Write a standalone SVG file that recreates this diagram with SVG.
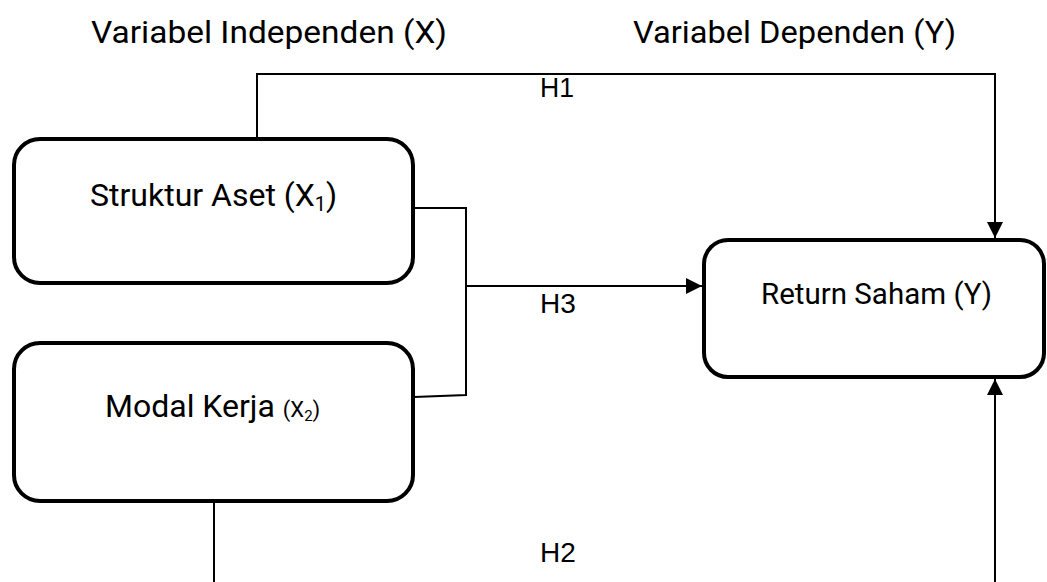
<svg xmlns="http://www.w3.org/2000/svg" width="1047" height="582" viewBox="0 0 1047 582">
  <style>
    .box { fill: #ffffff; stroke: #000000; stroke-width: 4; }
    .wire { fill: none; stroke: #000000; stroke-width: 2; }
    .title { font-family: Roboto, "Liberation Sans", sans-serif; font-size: 31px; fill: #000000; }
    .label { font-family: Roboto, "Liberation Sans", sans-serif; font-size: 32px; fill: #000000; }
    .label.small { font-size: 29.5px; }
    .hyp { font-family: "Liberation Sans", Arial, sans-serif; font-size: 28px; fill: #000000; }
  </style>
  <defs>
    <marker id="head" viewBox="0 0 16 16" refX="16" refY="8" markerWidth="16" markerHeight="16" markerUnits="userSpaceOnUse" orient="auto">
      <path d="M0,0 L16,8 L0,16 Z" fill="#000000"/>
    </marker>
  </defs>
  <rect width="1047" height="582" fill="#ffffff"/>

  <!-- column headings -->
  <text class="title" x="91" y="43" textLength="356" lengthAdjust="spacingAndGlyphs">Variabel Independen (X)</text>
  <text class="title" x="633" y="43" textLength="323" lengthAdjust="spacingAndGlyphs">Variabel Dependen (Y)</text>

  <g id="connectors">
    <!-- H1: Struktur Aset over the top to Return Saham -->
    <polyline class="wire" points="257,138 257,74 995,74 995,238" marker-end="url(#head)"/>
    <!-- H3: both independents joined, then into Return Saham -->
    <polyline class="wire" points="414,208 466,208 466,395 414,397"/>
    <line class="wire" x1="466" y1="286" x2="702" y2="286" marker-end="url(#head)"/>
    <!-- H2: Modal Kerja along the bottom to Return Saham -->
    <line class="wire" x1="214" y1="502" x2="214" y2="590"/>
    <line class="wire" x1="995" y1="590" x2="995" y2="379" marker-end="url(#head)"/>
  </g>

  <g id="hypothesis-labels">
    <text class="hyp" x="540" y="97" textLength="34" lengthAdjust="spacingAndGlyphs">H1</text>
    <text class="hyp" x="540" y="313">H3</text>
    <text class="hyp" x="540" y="562">H2</text>
  </g>

  <g id="struktur-aset">
    <rect class="box" x="14" y="139" width="399" height="144" rx="26" ry="26"/>
    <text class="label" x="90" y="206">Struktur Aset (X<tspan font-size="20" dy="5">1</tspan><tspan dy="-5">)</tspan></text>
  </g>

  <g id="modal-kerja">
    <rect class="box" x="14" y="343" width="399" height="158" rx="26" ry="26"/>
    <text class="label" x="105" y="417">Modal Kerja <tspan font-size="22">(X</tspan><tspan font-size="15" dy="4">2</tspan><tspan font-size="22" dy="-4">)</tspan></text>
  </g>

  <g id="return-saham">
    <rect class="box" x="704" y="240" width="340" height="137" rx="24" ry="24"/>
    <text class="label small" x="761" y="304">Return Saham (Y)</text>
  </g>
</svg>
